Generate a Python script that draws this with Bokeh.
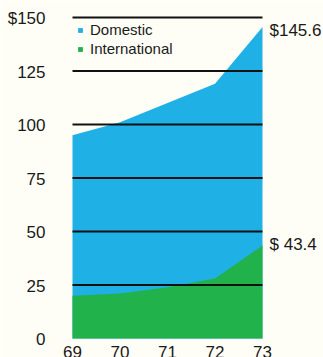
from bokeh.plotting import figure
from bokeh.models import ColumnDataSource, Legend, LegendItem, Range1d
from bokeh.core.properties import value
from bokeh.embed import file_html
from bokeh.resources import INLINE

years = [69, 70, 71, 72, 73]
year_labels = ["69", "70", "71", "72", "73"]
total = [95, 101, 110, 119, 145.6]
international = [20, 21, 24, 28, 43.4]
y_ticks = [0, 25, 50, 75, 100, 125, 150]
y_tick_labels = ["0", "25", "50", "75", "100", "125", "$150"]
end_labels = ["$145.6", "$ 43.4"]

BLUE = "#1fb0e6"
GREEN = "#22b24c"
BG = "#fefef6"
INK = "#1a1a1a"
FONT = "Liberation Sans"

src = ColumnDataSource(dict(x=years, total=total, intl=international, zero=[0] * len(years)))
grid_y = y_ticks[1:]
gsrc = ColumnDataSource(dict(x0=[years[0]] * len(grid_y), x1=[years[-1]] * len(grid_y), y=grid_y))
ysrc = ColumnDataSource(dict(x=[years[0]] * len(y_ticks), y=y_ticks, t=y_tick_labels))
xsrc = ColumnDataSource(dict(x=years, y=[0] * len(years), t=year_labels))
esrc = ColumnDataSource(dict(x=[years[-1]] * 2, y=[total[-1], international[-1]],
                             t=end_labels, dy=[4, -1]))

p = figure(width=323, height=357, output_backend="svg", toolbar_location=None,
           x_range=Range1d(67.4842, 74.2842), y_range=Range1d(-8.88, 157.94),
           min_border=0, background_fill_color=BG, border_fill_color=BG,
           outline_line_color=None)
p.axis.visible = False
p.grid.visible = False

dom = p.varea(x="x", y1="zero", y2="total", source=src, fill_color=BLUE)
intl = p.varea(x="x", y1="zero", y2="intl", source=src, fill_color=GREEN)

p.segment(x0="x0", x1="x1", y0="y", y1="y", source=gsrc, line_color="#111111", line_width=2)

common = dict(text_font=value(FONT), text_font_size="17px", text_color=INK)
p.text(x="x", y="y", text="t", source=ysrc, text_align="right", text_baseline="middle",
       x_offset=-27, y_offset=1, **common)
p.text(x="x", y="y", text="t", source=xsrc, text_align="center", text_baseline="top",
       y_offset=8, **common)
p.text(x="x", y="y", text="t", source=esrc, text_align="left", text_baseline="middle",
       x_offset=7, y_offset="dy", **common)

legend = Legend(items=[LegendItem(label="Domestic", renderers=[dom]),
                       LegendItem(label="International", renderers=[intl])],
                location=(77, 299), orientation="vertical",
                glyph_width=6, glyph_height=6, label_standoff=7,
                label_height=19, spacing=0, padding=0, margin=0,
                background_fill_alpha=0, border_line_color=None,
                label_text_font=FONT, label_text_font_size="15px",
                label_text_color=INK)
p.add_layout(legend)

open("out.html", "w").write(file_html(p, INLINE))
